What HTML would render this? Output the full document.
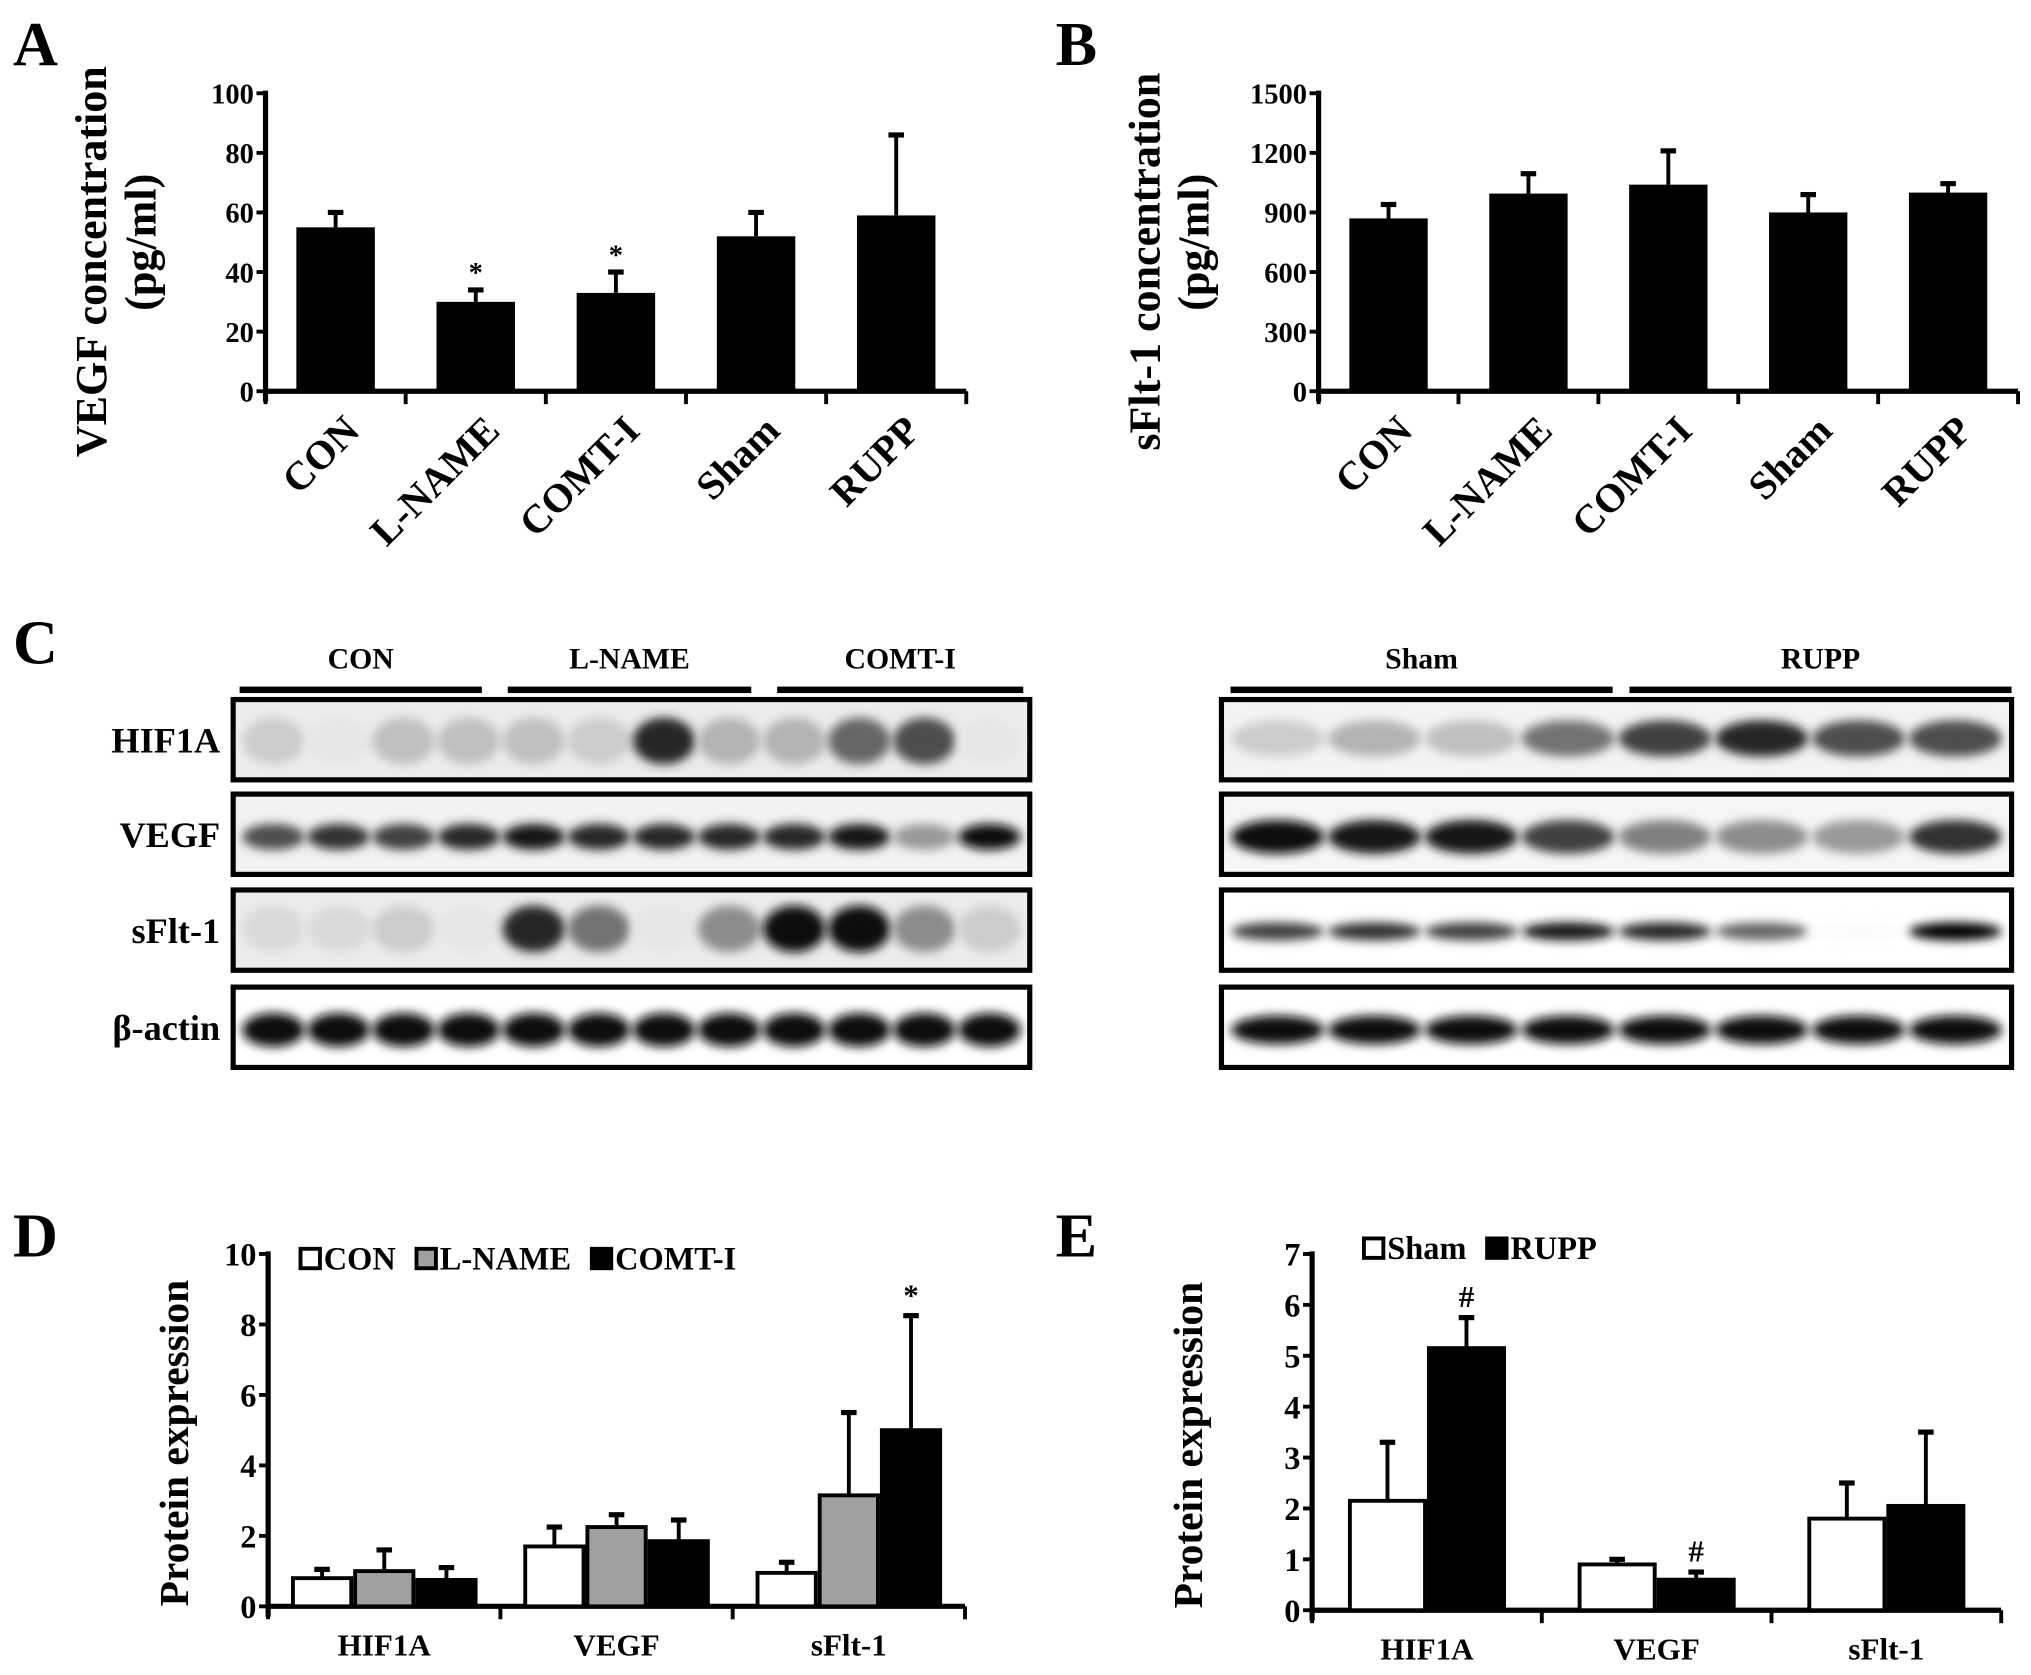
<!DOCTYPE html>
<html><head><meta charset="utf-8"><style>
html,body{margin:0;padding:0;background:#fff;}
svg{display:block;}
text{font-family:"Liberation Serif",serif;font-weight:bold;fill:#000;}
</style></head><body>
<svg id="fig" width="2031" height="1675" viewBox="0 0 1568 1293" preserveAspectRatio="none" xmlns="http://www.w3.org/2000/svg">
<defs>
<filter id="blur3" x="-50%" y="-100%" width="200%" height="300%"><feGaussianBlur stdDeviation="4"/></filter>
</defs>
<text x="10" y="50" font-size="48">A</text>
<text x="815" y="50" font-size="48">B</text>
<text x="10" y="512" font-size="48">C</text>
<text x="10" y="970" font-size="48">D</text>
<text x="815" y="970" font-size="48">E</text>
<g id="gA"></g>
<g id="gB"></g>
<g id="gC"></g>
<g id="gD"></g>
<g id="gE"></g>
</svg>
<script>
// Panel A data
const catsA = ["CON","L-NAME","COMT-I","Sham","RUPP"];
const valsA = [55,30,33,52,59];
const errA = [60,34,40,60,86];
const starA = ["","*","*","",""];
const ticksA = [0,20,40,60,80,100];
// Panel B data
const catsB = ["CON","L-NAME","COMT-I","Sham","RUPP"];
const valsB = [870,995,1040,900,1000];
const errB = [940,1095,1210,990,1045];
const ticksB = [0,300,600,900,1200,1500];
// Panel D data
const groupsD = ["HIF1A","VEGF","sFlt-1"];
const seriesD = ["CON","L-NAME","COMT-I"];
const conD = [0.8,1.7,0.95];
const lnameD = [1.0,2.25,3.15];
const comtD = [0.75,1.85,5.0];
const conErrD = [1.05,2.25,1.25];
const lnameErrD = [1.6,2.6,5.5];
const comtErrD = [1.1,2.45,8.25];
const ticksD = [0,2,4,6,8,10];
// Panel E data
const groupsE = ["HIF1A","VEGF","sFlt-1"];
const seriesE = ["Sham","RUPP"];
const shamE = [2.15,0.9,1.8];
const ruppE = [5.15,0.6,2.05];
const shamErrE = [3.3,1.0,2.5];
const ruppErrE = [5.75,0.75,3.5];
const markE = ["#","#",""];
const ticksE = [0,1,2,3,4,5,6,7];
// Blot band intensities
const blotRowsL = ["HIF1A","VEGF","sFlt-1","β-actin"];
const hifL = [0.2,0.1,0.25,0.25,0.25,0.2,0.85,0.3,0.3,0.6,0.7,0.1];
const vegfL = [0.7,0.8,0.75,0.85,0.9,0.85,0.85,0.85,0.85,0.9,0.4,0.95];
const sfltL = [0.15,0.15,0.2,0.1,0.85,0.55,0.1,0.45,0.95,0.95,0.45,0.2];
const actL = [0.95,0.95,0.95,0.95,0.95,0.95,0.95,0.95,0.95,0.95,0.95,0.95];
const hifR = [0.2,0.3,0.25,0.55,0.75,0.85,0.7,0.7];
const vegfR = [0.95,0.9,0.9,0.75,0.5,0.45,0.4,0.8];
const sfltR = [0.75,0.8,0.75,0.9,0.85,0.6,0.02,0.98];
const actR = [0.95,0.95,0.95,0.95,0.95,0.95,0.95,0.95];

const NS="http://www.w3.org/2000/svg";
function mk(tag,attrs,parent){const e=document.createElementNS(NS,tag);for(const k in attrs)e.setAttribute(k,attrs[k]);parent.appendChild(e);return e;}

function yScale(y0,y1,max){return v=>y0-(v/max)*(y0-y1);}

function axes(g,x0,xEnd,y0,ys,ticks,nCat,fs){
  const ax=mk('line',{x1:x0,y1:ys(ticks[ticks.length-1])-2,x2:x0,y2:y0+8,stroke:'#000','stroke-width':4},g);
  
  
  const bx=mk('line',{x1:x0,y1:y0,x2:xEnd,y2:y0,stroke:'#000','stroke-width':4},g);
  
  
  ticks.forEach(t=>{
    mk('line',{x1:x0-7,y1:ys(t),x2:x0,y2:ys(t),stroke:'#000','stroke-width':3},g);
    const tx=mk('text',{x:x0-9,y:ys(t)+fs*0.36,'font-size':fs,'text-anchor':'end'},g);
    tx.textContent=t;
    
    
  });
  const step=(xEnd-x0)/nCat;
  for(let i=0;i<=nCat;i++){mk('line',{x1:x0+i*step,y1:y0,x2:x0+i*step,y2:y0+10,stroke:'#000','stroke-width':3},g);}
  return step;
}
function errbar(g,cx,yTop,yBar,hw){
  mk('line',{x1:cx,y1:yTop,x2:cx,y2:yBar,stroke:'#000','stroke-width':3},g);
  mk('line',{x1:cx-hw,y1:yTop,x2:cx+hw,y2:yTop,stroke:'#000','stroke-width':4},g);
}

// Panels A & B
function simple(g,x0,xEnd,y0,y1,cats,vals,errs,ticks,marks,title1,title2,tx){
  const ys=yScale(y0,y1,ticks[ticks.length-1]);
  const step=axes(g,x0,xEnd,y0,ys,ticks,cats.length,22);
  cats.forEach((c,i)=>{
    const cx=x0+step*(i+0.5), bw=step*0.56;
    errbar(g,cx,ys(errs[i]),ys(vals[i]),6);
    const r=mk('rect',{x:cx-bw/2,y:ys(vals[i]),width:bw,height:y0-ys(vals[i]),fill:'#000'},g);
    
    
    if(marks&&marks[i]){const s=mk('text',{x:cx,y:ys(errs[i])-6,'font-size':22,'text-anchor':'middle'},g);s.textContent=marks[i];
      
      }
    const l=mk('text',{x:0,y:0,'font-size':31,'text-anchor':'end',transform:`translate(${cx+20},${y0+32}) rotate(-45)`},g);
    l.textContent=c;
    
    
  });
  const t1=mk('text',{x:0,y:0,'font-size':34,'text-anchor':'middle',transform:`translate(${tx},${(y0+y1)/2+15}) rotate(-90)`},g);t1.textContent=title1;
  
  
  const t2=mk('text',{x:0,y:0,'font-size':34,'text-anchor':'middle',transform:`translate(${tx+38},${(y0+y1)/2}) rotate(-90)`},g);t2.textContent=title2;
  
  
}
simple(document.getElementById('gA'),205,746,302,72,catsA,valsA,errA,ticksA,starA,"VEGF concentration","(pg/ml)",82);
simple(document.getElementById('gB'),1018,1558,302,72,catsB,valsB,errB,ticksB,null,"sFlt-1 concentration","(pg/ml)",895);

// Grouped charts
function grouped(g,x0,xEnd,y0,y1,groups,series,valsArr,errsArr,fills,ticks,bw,marks,markSeries,legendX,legendY,tx){
  const ys=yScale(y0,y1,ticks[ticks.length-1]);
  const step=axes(g,x0,xEnd,y0,ys,ticks,groups.length,25);
  const n=series.length;
  groups.forEach((gr,i)=>{
    const gc=x0+step*(i+0.5);
    for(let s=0;s<n;s++){
      const bx=gc-(n*bw)/2+s*bw, v=valsArr[s][i], e=errsArr[s][i];
      errbar(g,bx+bw/2,ys(e),ys(v),6);
      const r=mk('rect',{x:bx+1.5,y:ys(v),width:bw-3,height:y0-ys(v),fill:fills[s],stroke:'#000','stroke-width':3},g);
      
      
      if(marks&&s===markSeries&&marks[i]){const m=mk('text',{x:bx+bw/2,y:ys(e)-8,'font-size':24,'text-anchor':'middle'},g);m.textContent=marks[i];
        
        }
    }
    const l=mk('text',{x:gc,y:y0+38,'font-size':24,'text-anchor':'middle'},g);l.textContent=gr;
    
    
  });
  let lx=legendX;
  series.forEach((s,k)=>{
    const box=mk('rect',{x:lx,y:legendY-16,width:15,height:15,fill:fills[k],stroke:'#000','stroke-width':3},g);
    
    
    const t=mk('text',{x:lx+18,y:legendY,'font-size':25},g);t.textContent=s;
    
    
    lx+=18+t.getComputedTextLength()+16;
  });
  const t1=mk('text',{x:0,y:0,'font-size':32,'text-anchor':'middle',transform:`translate(${tx},${(y0+y1)/2+10}) rotate(-90)`},g);t1.textContent="Protein expression";
  
  
}
grouped(document.getElementById('gD'),207,745,1240,968,groupsD,seriesD,[conD,lnameD,comtD],[conErrD,lnameErrD,comtErrD],['#fff','#a0a0a0','#000'],ticksD,48,["","","*"],2,232,980,145);
grouped(document.getElementById('gE'),1013,1545,1243,968,groupsE,seriesE,[shamE,ruppE],[shamErrE,ruppErrE],['#fff','#000'],ticksE,61,markE,1,1053,972,928);

// Panel C blots
const gC=document.getElementById('gC');
function labelT(x,y,s,anchor,fs,name){const t=mk('text',{x:x,y:y,'font-size':fs,'text-anchor':anchor},gC);t.textContent=s;
  
  }
[["CON",185,372],["L-NAME",392,580],["COMT-I",600,790],["Sham",950,1245],["RUPP",1258,1553]].forEach(a=>{
  labelT((a[1]+a[2])/2,516,a[0],'middle',23,'blot-group-label');
  mk('rect',{x:a[1],y:530,width:a[2]-a[1],height:5,fill:'#000'},gC);
});
const rowY=[540,613,687,762], rowH=62;
blotRowsL.forEach((r,i)=>labelT(170,rowY[i]+41,r,'end',28,'blot-row-label'));
function strip(x0,x1,y,arr,bandY,bh,name,bg){
  const box=mk('g',{},gC);
  
  
  mk('rect',{x:x0,y:y,width:x1-x0,height:rowH,fill:bg,stroke:'#000','stroke-width':4},box);
  const n=arr.length, w=(x1-x0-12)/n;
  arr.forEach((v,k)=>{
    const cx=x0+6+w*(k+0.5);
    const g=Math.round(255*(1-v));
    mk('ellipse',{cx:cx,cy:y+bandY,rx:w*0.48,ry:bh,fill:`rgb(${g},${g},${g})`,filter:'url(#blur3)'},box);
  });
}
strip(180,795,rowY[0],hifL,32,18,'blot-hif1a-left','#ececec');
strip(180,795,rowY[1],vegfL,33,10,'blot-vegf-left','#f2f2f2');
strip(180,795,rowY[2],sfltL,30,18,'blot-sflt1-left','#ececec');
strip(180,795,rowY[3],actL,33,13,'blot-actin-left','#fff');
strip(943,1553,rowY[0],hifR,30,14,'blot-hif1a-right','#f3f3f3');
strip(943,1553,rowY[1],vegfR,33,13,'blot-vegf-right','#f6f6f6');
strip(943,1553,rowY[2],sfltR,32,7,'blot-sflt1-right','#fff');
strip(943,1553,rowY[3],actR,33,11,'blot-actin-right','#fff');
</script>
</body></html>
